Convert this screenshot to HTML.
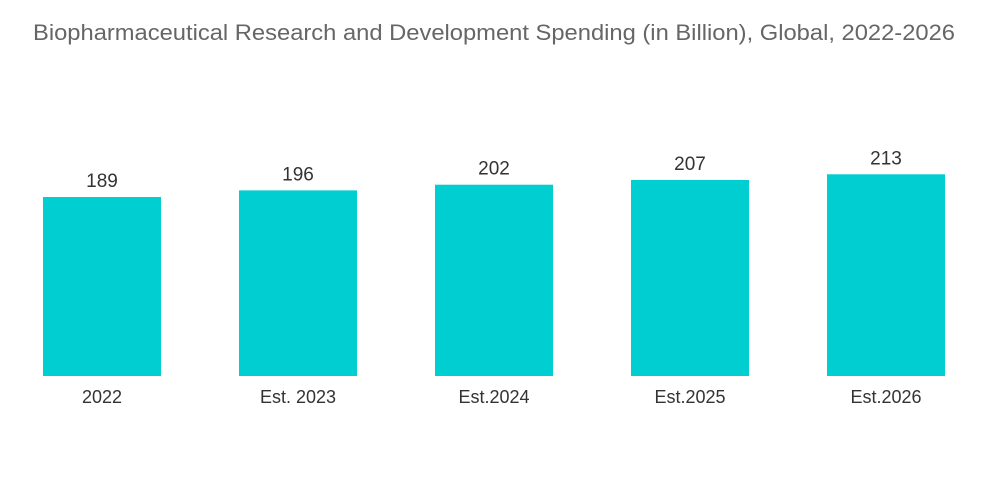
<!DOCTYPE html>
<html><head><meta charset="utf-8"><style>
body{margin:0;background:#fff;}
svg{display:block;font-family:"Liberation Sans",sans-serif;}
</style></head><body>
<svg id="chart" width="1000" height="504">
<text x="33" y="40" font-size="22" fill="#666" textLength="922" lengthAdjust="spacingAndGlyphs">Biopharmaceutical Research and Development Spending (in Billion), Global, 2022-2026</text>
<g id="bars"></g>
</svg>
<script>
const categories = ["2022","Est. 2023","Est.2024","Est.2025","Est.2026"];
const values = [189,196,202,207,213];
const valueLabels = ["189","196","202","207","213"];
const ns="http://www.w3.org/2000/svg";
const g=document.getElementById('bars');
const baseY=376, scale=0.947, x0=43, step=196, bw=118;
function xPos(i){return x0+i*step;}
function yPos(v){return baseY-v*scale;}
categories.forEach((c,i)=>{
  const r=document.createElementNS(ns,'rect');
  r.setAttribute('x',xPos(i));r.setAttribute('y',yPos(values[i]));
  r.setAttribute('width',bw);r.setAttribute('height',baseY-yPos(values[i]));
  r.setAttribute('fill','#00ced1');
  
  
  g.appendChild(r);
  const t=document.createElementNS(ns,'text');
  t.setAttribute('x',xPos(i)+bw/2);t.setAttribute('y',yPos(values[i])-10);
  t.setAttribute('text-anchor','middle');t.setAttribute('font-size','19');t.setAttribute('fill','#333');
  t.textContent=valueLabels[i];
  
  
  g.appendChild(t);
  const l=document.createElementNS(ns,'text');
  l.setAttribute('x',xPos(i)+bw/2);l.setAttribute('y',403);
  l.setAttribute('text-anchor','middle');l.setAttribute('font-size','18');l.setAttribute('fill','#333');
  l.textContent=c;
  
  
  g.appendChild(l);
});
</script>
</body></html>
